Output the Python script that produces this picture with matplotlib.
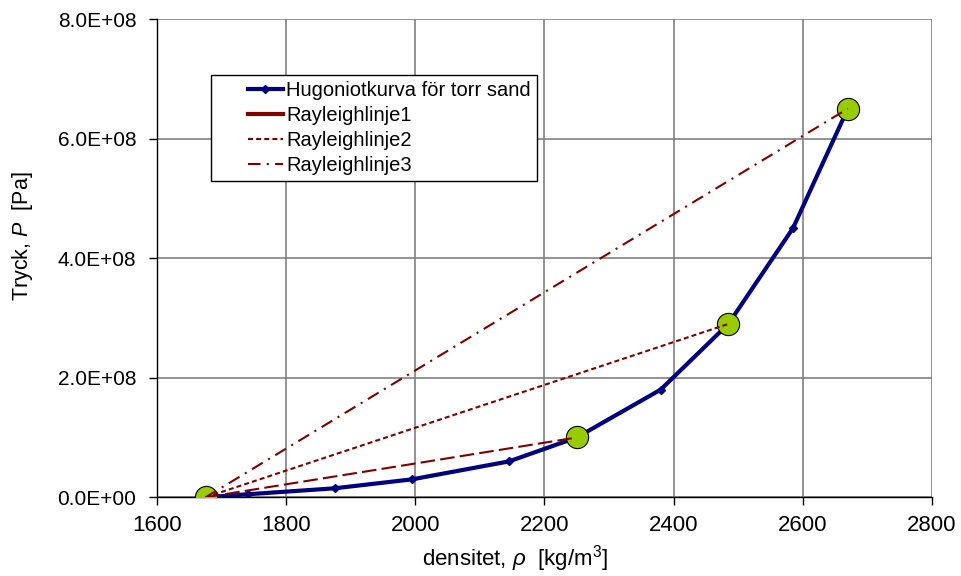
import matplotlib
matplotlib.use("Agg")
import matplotlib.pyplot as plt
import numpy as np
from matplotlib.lines import Line2D
from matplotlib.ticker import FuncFormatter, MultipleLocator

plt.rcParams['font.family'] = ['Liberation Sans', 'DejaVu Sans']
plt.rcParams['mathtext.fontset'] = 'custom'
plt.rcParams['mathtext.rm'] = 'Liberation Sans'
plt.rcParams['mathtext.it'] = 'Liberation Sans:italic'

# Hugoniot curve for dry sand
rho = [1675, 1740, 1875, 1995, 2145, 2250, 2380, 2485, 2585, 2670]
P = [0, 5e6, 1.5e7, 3e7, 6e7, 1e8, 1.8e8, 2.9e8, 4.5e8, 6.5e8]

# Rayleigh lines from the initial state to three shocked states
rho0, P0 = 1675, 0
ray_rho = [2250, 2485, 2670]
ray_P = [1e8, 2.9e8, 6.5e8]

dark_blue = '#000080'
dark_red = '#800000'
green = '#99CC00'

fig = plt.figure(figsize=(9.62, 5.76), dpi=100)
ax = fig.add_axes([0.1635, 0.1367, 0.805, 0.8303])

ax.plot(rho, P, color=dark_blue, lw=3, marker='D', ms=4.5, mfc=dark_blue, mec=dark_blue, zorder=2)

# end states
ax.plot([rho0] + ray_rho, [P0] + ray_P, linestyle='none', marker='o', ms=16,
        mfc=green, mec='black', mew=0.8, zorder=3)

styles = [(0, (7, 2.5)), (0, (2.4, 1.5)), (0, (6, 3, 1, 3))]
for r, p, ls in zip(ray_rho, ray_P, styles):
    ax.plot([rho0, r], [P0, p], color=dark_red, lw=1.5, linestyle=ls, zorder=4)

ax.set_xlim(1600, 2800)
ax.set_ylim(0, 8e8)
ax.xaxis.set_major_locator(MultipleLocator(200))
ax.yaxis.set_major_locator(MultipleLocator(2e8))
ax.yaxis.set_major_formatter(FuncFormatter(lambda v, pos: '%.1E' % v))
ax.grid(True, color='#808080', lw=1.2)
ax.set_axisbelow(True)
for s in ['top', 'right']:
    ax.spines[s].set_visible(False)
for s in ['left', 'bottom']:
    ax.spines[s].set_color('black')
    ax.spines[s].set_linewidth(1)
ax.tick_params(direction='out', length=6, width=1)
ax.tick_params(axis='y', labelsize=15, pad=9)
ax.tick_params(axis='x', labelsize=16, pad=7)

ax.set_xlabel(r'densitet, $\rho$  [kg/m$^3$]', fontsize=16)
ax.set_ylabel(r'Tryck, $P$  [Pa]', fontsize=15.5)
ax.xaxis.set_label_coords(0.462, -0.096)
ax.yaxis.set_label_coords(-0.158, 0.546)

handles = [
    Line2D([], [], color=dark_blue, lw=3, marker='D', ms=4.5),
    Line2D([], [], color=dark_red, lw=3),
    Line2D([], [], color=dark_red, lw=1.5, linestyle=(0, (2.4, 1.5))),
    Line2D([], [], color=dark_red, lw=1.5, linestyle=(0, (6, 3, 1, 3))),
]
labels = ['Hugoniotkurva för torr sand', 'Rayleighlinje1', 'Rayleighlinje2', 'Rayleighlinje3']
leg_fs = 14.5
leg = ax.legend(handles, labels, loc='upper left', bbox_to_anchor=(0.07, 0.883),
                fontsize=leg_fs, frameon=True, fancybox=False, edgecolor='black',
                framealpha=1, borderpad=0.3, handlelength=3.25, handletextpad=0.15,
                labelspacing=0.30, borderaxespad=0)
leg.get_frame().set_linewidth(1)

# shorter legend handles, pushed to the right of their slot
for h in leg.legend_handles:
    xd = np.asarray(h.get_xdata(), dtype=float)
    h.set_xdata(np.linspace(xd[0] + 1.5 * leg_fs, xd[-1], len(xd)))

fig.savefig('out.png', dpi=100)
